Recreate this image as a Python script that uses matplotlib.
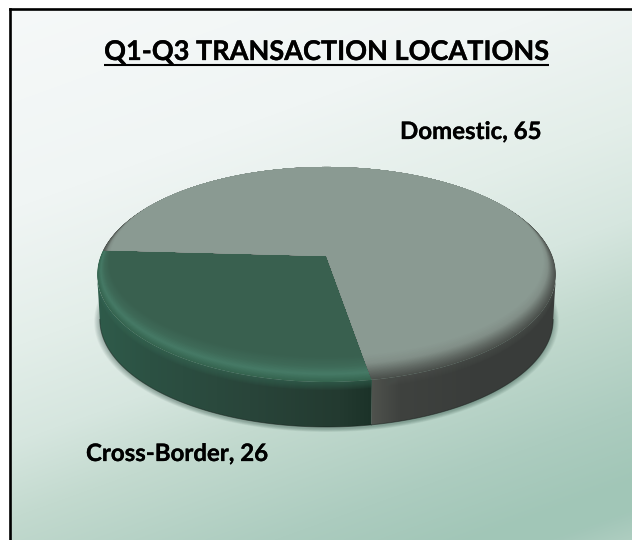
import matplotlib
matplotlib.use("Agg")
import matplotlib.pyplot as plt
import matplotlib.patheffects as pe
from matplotlib.colors import to_rgb
from matplotlib.patches import Polygon
import numpy as np

plt.rcParams["font.family"] = ["Lato", "Open Sans", "DejaVu Sans"]

TITLE = "Q1-Q3 TRANSACTION LOCATIONS"
CATEGORIES = ["Cross-Border", "Domestic"]
VALUES = [26, 65]

W, H = 632, 540
CX, CY = 326.5, 256.0
K = 226.0
PA, PC = 60.3, -0.172   # perspective of the tilted disc
DEPTH = 45.0
START = 80.4            # degrees, Cross-Border runs on from here

BG_STOPS = [(0, "#f6f9f9"), (200, "#f0f5f4"), (330, "#e3eee9"), (420, "#d6e6df"),
            (490, "#c3dacf"), (600, "#acccbf"), (670, "#a1c6b7"), (695, "#a2c6b8"), (723, "#afcec1")]


def project(u, v):
    d = 1 + PC * v
    return CX + K * u / d, (PA * v + CY) / d


def rim(t_deg, s=1.0):
    # s < 1 pulls the ring in towards the back edge, gives the bevel
    t = np.radians(t_deg)
    u = np.cos(t) * (1 - (1 - s) * 0.45)
    v = s * np.sin(t) - (1 - s) * 1.15
    return project(u, v)


def ramp(stops, n):
    pos = np.array([p for p, _ in stops])
    cols = np.array([to_rgb(c) for _, c in stops])
    x = np.linspace(0, 1, n)
    return np.column_stack([np.interp(x, pos, cols[:, i]) for i in range(3)])


fig = plt.figure(figsize=(W / 100, H / 100), dpi=100)
ax = fig.add_axes([0, 0, 1, 1])

# background
xx, yy = np.meshgrid(np.arange(10, W), np.arange(9, H))
p = xx * 0.34 + yy * 0.94
pos = np.array([s[0] for s in BG_STOPS])
cols = np.array([to_rgb(s[1]) for s in BG_STOPS])
bg = np.dstack([np.interp(p, pos, cols[:, i]) for i in range(3)])
ax.imshow(bg, extent=(10, W, H, 9), aspect="auto", zorder=0, interpolation="bilinear")
ax.plot([10, 10], [H, 9], color="black", lw=1.9, zorder=1, solid_capstyle="projecting")
ax.plot([10, W], [9, 9], color="black", lw=1.9, zorder=1, solid_capstyle="projecting")

# angles come from the values
sweep = np.array(VALUES) / sum(VALUES) * 360
cb_end = START + sweep[0]
tt = np.linspace(0, 360, 721)
edge = np.degrees(np.arcsin(-PC))   # where the outline turns, wall is hidden past this

# soft shadow under the disc
bx, by = rim(tt)
for i in range(8):
    g = (8 - i) * 0.9
    sx = CX + (bx - CX) * (0.985 + g / 260)
    sy = (by - 256) * (1 + g / 260) + 256 + DEPTH + 1.5
    ax.add_patch(Polygon(np.column_stack([sx, sy]), closed=True, fc="#24453a", ec="none",
                         alpha=0.05, zorder=2))


def wall(t0, t1, stops, glow, zorder):
    t = np.linspace(t0, t1, 240)
    x, y = rim(t)
    bot_x = CX + (x - CX) * 0.988
    bot_y = y + DEPTH
    poly = Polygon(np.column_stack([np.r_[x, bot_x[::-1]], np.r_[y, bot_y[::-1]]]),
                   closed=True, fc="none", ec="none", zorder=zorder)
    ax.add_patch(poly)
    x0, x1 = min(x.min(), bot_x.min()), max(x.max(), bot_x.max())
    rel = sorted(((a - x0) / (x1 - x0), c) for a, c in stops)
    row = ramp(rel, 400)[None, :, :]
    img = ax.imshow(row, extent=(x0, x1, y.max() + DEPTH + 2, y.min() - 2), aspect="auto",
                    zorder=zorder, interpolation="bilinear")
    img.set_clip_path(poly)
    # top of the wall fades up into the bevel
    gx, gy = rim(tt)
    for k in range(8, 0, -1):
        band = Polygon(np.column_stack([gx, gy + k]), closed=True, fc=glow, ec="none",
                       alpha=0.09, zorder=zorder + 0.05)
        ax.add_patch(band)
        band.set_clip_path(poly)
    ax.plot(bot_x, bot_y, color="#171f1b", lw=0.7, alpha=0.5, zorder=zorder + 0.1)


seam_x = rim(START)[0]
wall(180 - edge, START, [(95, "#2f5c4b"), (150, "#2c5143"), (250, "#29453a"),
                         (340, "#233a30"), (seam_x, "#1b3228")], "#3b6f5b", 3)
wall(START, edge, [(seam_x, "#4f524d"), (400, "#3f423f"), (470, "#3a3d3b"), (556, "#393c3a")],
     "#505551", 3)

# top face, nested rings clipped to each slice
slices = [
    (START, cb_end, [(0.0, "#35644f"), (0.3, "#467a66"), (0.6, "#3e6a58"), (1.0, "#39604f")]),
    (cb_end, START + 360, [(0.0, "#4a4f4b"), (0.3, "#626a65"), (0.65, "#828f88"), (1.0, "#8a9a92")]),
]
N = 36
for t0, t1, stops in slices:
    t = np.linspace(t0, t1, 400)
    x, y = rim(t)
    cx0, cy0 = project(0, 0)
    clip = Polygon(np.column_stack([np.r_[cx0, x], np.r_[cy0, y]]), closed=True,
                   fc="none", ec="none", zorder=4)
    ax.add_patch(clip)
    shades = ramp(stops, N)
    for i, s in enumerate(np.linspace(1, 0.92, N)):
        rx, ry = rim(tt, s)
        ring = Polygon(np.column_stack([rx, ry]), closed=True, fc=shades[i], ec="none", zorder=4)
        ax.add_patch(ring)
        ring.set_clip_path(clip)

# text
bold = [pe.withStroke(linewidth=0.2, foreground="black")]
title = ax.text(326.5, 60, TITLE, fontsize=19.5, fontweight="bold", ha="center", va="baseline",
                color="black", zorder=6, path_effects=bold)
ax.text(400, 139, f"{CATEGORIES[1]}, {VALUES[1]}", fontsize=17.3, fontweight="bold",
        ha="left", va="baseline", color="black", zorder=6, path_effects=bold)
ax.text(86, 461, f"{CATEGORIES[0]}, {VALUES[0]}", fontsize=17.3, fontweight="bold",
        ha="left", va="baseline", color="black", zorder=6, path_effects=bold)

ax.set_xlim(0, W)
ax.set_ylim(H, 0)
ax.axis("off")

fig.canvas.draw()
bb = title.get_window_extent()
ax.plot([bb.x0, bb.x1], [64.5, 64.5], color="black", lw=1.5, zorder=6, solid_capstyle="butt")

fig.savefig("out.png", dpi=100)
